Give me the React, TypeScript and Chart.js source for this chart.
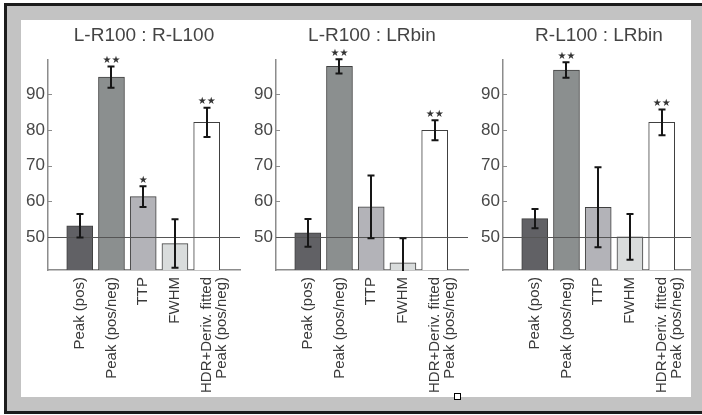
import React, { useEffect, useRef } from 'react';
import { Chart, registerables } from 'chart.js';

Chart.register(...registerables);

// ---- data ----
const categories: (string | string[])[] = [
  'Peak (pos)',
  'Peak (pos/neg)',
  'TTP',
  'FWHM',
  ['HDR+Deriv. fitted', 'Peak (pos/neg)'],
];
const panelTitles = ['L-R100 : R-L100', 'L-R100 : LRbin', 'R-L100 : LRbin'];
const yTicks = [50, 60, 70, 80, 90];
const chanceLevel = 50;

const p1Means = [53.1, 94.8, 61.3, 48.1, 82.1];
const p1Errs = [3.3, 3.0, 2.9, 6.8, 4.1];
const p1Stars = ['', '★★', '★', '', '★★'];

const p2Means = [51.1, 97.8, 58.4, 42.7, 79.9];
const p2Errs = [3.9, 2.0, 8.8, 6.9, 2.8];
const p2Stars = ['', '★★', '', '', '★★'];

const p3Means = [55.1, 96.8, 58.3, 50.0, 82.1];
const p3Errs = [2.7, 2.2, 11.2, 6.4, 3.6];
const p3Stars = ['', '★★', '', '', '★★'];

const barColors = ['#616165', '#8b8f8f', '#b3b3b8', '#d9dcdc', '#ffffff'];

const FONT = "'Liberation Sans', Arial, Helvetica, sans-serif";
const AXIS = '#8c8c8c';

type PanelProps = {
  left: number;
  title: string;
  means: number[];
  errs: number[];
  stars: string[];
};

function Panel({ left, title, means, errs, stars }: PanelProps) {
  const ref = useRef<HTMLCanvasElement | null>(null);

  useEffect(() => {
    if (!ref.current) return;

    const decor = {
      id: 'decor',
      afterDatasetsDraw(chart: any) {
        const { ctx, chartArea: a, scales } = chart;
        const x = scales.x;
        const y = scales.y;
        ctx.save();
        // inward ticks on y axis
        ctx.strokeStyle = AXIS;
        ctx.lineWidth = 1;
        yTicks.forEach((v) => {
          const py = Math.round(y.getPixelForValue(v)) + 0.5;
          ctx.beginPath();
          ctx.moveTo(a.left, py);
          ctx.lineTo(a.left + 4, py);
          ctx.stroke();
        });
        // chance line
        const cy = Math.round(y.getPixelForValue(chanceLevel)) + 0.5;
        ctx.strokeStyle = '#555555';
        ctx.lineWidth = 1;
        ctx.beginPath();
        ctx.moveTo(a.left, cy);
        ctx.lineTo(a.right, cy);
        ctx.stroke();

        // error bars
        ctx.save();
        ctx.beginPath();
        ctx.rect(a.left, a.top - 30, a.right - a.left, a.bottom - a.top + 31);
        ctx.clip();
        ctx.strokeStyle = '#161616';
        ctx.lineWidth = 2;
        means.forEach((m, i) => {
          const px = Math.round(x.getPixelForValue(i));
          const hi = y.getPixelForValue(m + errs[i]);
          const lo = y.getPixelForValue(m - errs[i]);
          ctx.beginPath();
          ctx.moveTo(px, hi);
          ctx.lineTo(px, lo);
          ctx.moveTo(px - 3.5, hi);
          ctx.lineTo(px + 3.5, hi);
          ctx.moveTo(px - 3.5, lo);
          ctx.lineTo(px + 3.5, lo);
          ctx.stroke();
        });
        ctx.restore();

        // significance stars
        ctx.fillStyle = '#333333';
        ctx.font = "10px 'DejaVu Sans', sans-serif";
        ctx.textAlign = 'center';
        ctx.textBaseline = 'middle';
        stars.forEach((s, i) => {
          if (!s) return;
          const px = x.getPixelForValue(i);
          const hi = y.getPixelForValue(means[i] + errs[i]);
          ctx.fillText(s, px, hi - 6);
        });

        // title
        ctx.fillStyle = '#444444';
        ctx.font = `19px ${FONT}`;
        ctx.textAlign = 'center';
        ctx.textBaseline = 'middle';
        ctx.fillText(title, (a.left + a.right) / 2, 16);
        ctx.restore();
      },
    };

    const chart = new Chart(ref.current, {
      type: 'bar',
      data: {
        datasets: [
          {
            data: means.map((m, i) => ({ x: i, y: m })),
            backgroundColor: barColors,
            borderColor: '#404040',
            borderWidth: 1,
            borderSkipped: false,
            barThickness: 26,
          },
        ],
      },
      options: {
        responsive: false,
        animation: false,
        devicePixelRatio: 1,
        layout: { padding: { top: 40, right: 8, left: 0, bottom: 0 } },
        plugins: {
          legend: { display: false },
          tooltip: { enabled: false },
          title: { display: false },
        },
        scales: {
          x: {
            type: 'linear',
            offset: false,
            min: -1,
            max: 5.05,
            grid: { display: false, drawTicks: false, offset: false },
            border: { display: true, color: AXIS, width: 1.5 },
            afterBuildTicks: (s: any) => {
              s.ticks = categories.map((_, i) => ({ value: i }));
            },
            afterFit: (s: any) => {
              s.height = 127;
              s.paddingLeft = 0;
              s.paddingRight = 0;
            },
            ticks: {
              autoSkip: false,
              minRotation: 90,
              maxRotation: 90,
              padding: 7,
              color: '#3a3a3a',
              font: { family: FONT, size: 15, lineHeight: 1.0 },
              callback: (_v: any, i: number) => categories[i] as any,
            },
          },
          y: {
            type: 'linear',
            min: 40.7,
            max: 99.6,
            grid: { display: false, drawTicks: false },
            border: { display: true, color: AXIS, width: 1.5 },
            afterBuildTicks: (s: any) => {
              s.ticks = yTicks.map((v) => ({ value: v }));
            },
            afterFit: (s: any) => {
              s.width = 27;
              s.paddingTop = 0;
              s.paddingBottom = 0;
            },
            ticks: {
              padding: 3,
              color: '#484848',
              font: { family: FONT, size: 17 },
              callback: (v: any) => String(v),
            },
          },
        },
      } as any,
      plugins: [decor],
    });

    return () => chart.destroy();
  }, []);

  return (
    <canvas
      ref={ref}
      width={227}
      height={377}
      style={{ position: 'absolute', left, top: 0, width: 227, height: 377 }}
    />
  );
}

export default function App() {
  return (
    <div
      style={{
        position: 'fixed',
        left: 0,
        top: 0,
        width: 702,
        height: 415,
        background: '#ffffff',
        overflow: 'hidden',
      }}
    >
      <div
        style={{
          position: 'absolute',
          left: 4,
          top: 3,
          width: 740,
          height: 405,
          border: '3px solid #1c1c1c',
          background: '#c3c3c3',
        }}
      />
      <div
        style={{
          position: 'absolute',
          left: 21,
          top: 20,
          width: 670,
          height: 377,
          background: '#ffffff',
          overflow: 'hidden',
        }}
      >
        <Panel left={0} title={panelTitles[0]} means={p1Means} errs={p1Errs} stars={p1Stars} />
        <Panel left={228} title={panelTitles[1]} means={p2Means} errs={p2Errs} stars={p2Stars} />
        <Panel left={455} title={panelTitles[2]} means={p3Means} errs={p3Errs} stars={p3Stars} />
      </div>
      <div
        style={{
          position: 'absolute',
          left: 454,
          top: 393,
          width: 5,
          height: 5,
          border: '1px solid #000000',
          background: '#ffffff',
        }}
      />
    </div>
  );
}
